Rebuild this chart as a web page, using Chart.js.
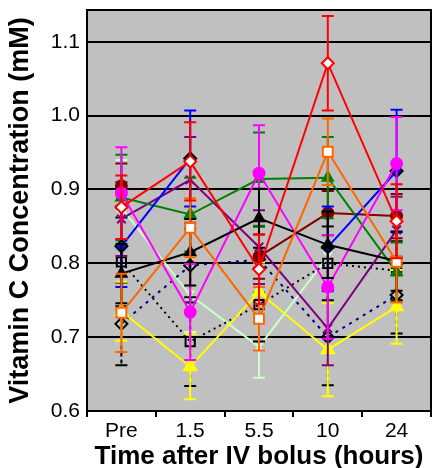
<!DOCTYPE html>
<html>
<head>
<meta charset="utf-8">
<script src="https://cdn.jsdelivr.net/npm/chart.js@4/dist/chart.umd.min.js"></script>
<style>
  html, body { margin: 0; padding: 0; background: #fff; }
  #wrap { width: 440px; height: 468px; }
</style>
</head>
<body>
<div id="wrap"><canvas id="vitC"></canvas></div>
<script>
// Vitamin C concentration after IV bolus — one line per subject, mean ± error

const timePoints = ['Pre', '1.5', '5.5', '10', '24'];
const yTickValues = [0.6, 0.7, 0.8, 0.9, 1.0, 1.1];

// values (mM) and error half-widths (null = no sample)
const redVals    = [0.876, 0.938, 0.792, 1.071, 0.857];
const redErr     = [0.043, 0.053, 0.047, 0.064, 0.050];
const blackVals  = [0.786, 0.815, 0.861, 0.825, 0.803];
const blackErr   = [0.040, 0.045, 0.040, 0.045, 0.040];
const orangeVals = [0.733, 0.848, 0.725, 0.951, 0.802];
const orangeErr  = [0.053, 0.040, 0.043, 0.045, 0.055];
const magentaVals = [0.895, 0.734, 0.922, 0.768, 0.935];
const magentaErr  = [0.062, 0.065, 0.065, 0.070, 0.063];
const blueVals   = [0.823, 0.942, null, 0.822, 0.925];
const blueErr    = [0.055, 0.065, null, 0.055, 0.083];
const greenVals  = [0.889, 0.866, 0.914, 0.916, 0.788];
const greenErr   = [0.058, 0.050, 0.063, 0.055, 0.040];
const maroonVals = [0.905, null, 0.809, 0.868, 0.864];
const maroonErr  = [0.030, null, 0.030, 0.030, 0.030];
const purpleVals = [0.860, 0.913, 0.822, 0.712, 0.845];
const purpleErr  = [0.050, 0.058, 0.050, 0.050, 0.045];
const yellowVals = [0.735, 0.660, 0.761, 0.683, 0.741];
const yellowErr  = [0.040, 0.044, 0.040, 0.063, 0.050];
const navyVals   = [0.718, 0.797, 0.805, 0.700, 0.757];
const navyErr    = [0.056, 0.050, 0.045, 0.065, 0.052];
const blackDotVals = [0.802, 0.694, 0.744, 0.800, 0.790];
const blackDotErr  = [0.060, 0.060, 0.050, 0.050, 0.040];
const paleVals   = [0.875, 0.757, 0.687, 0.809, null];
const paleErr    = [0.065, 0.050, 0.042, 0.040, null];

// drawing order: first entry ends up on top
const SERIES = [
  { data: redVals,      err: redErr,      color: '#ff0000', style: 'rectRot',  r: 6,   fill: '#ffffff' },
  { data: orangeVals,   err: orangeErr,   color: '#ff6600', style: 'rect',     r: 7,   fill: '#ffffff' },
  { data: blackVals,    err: blackErr,    color: '#000000', style: 'triangle', r: 6 },
  { data: magentaVals,  err: magentaErr,  color: '#ff00ff', style: 'circle',   r: 5.5 },
  { data: blueVals,     err: blueErr,     color: '#0000ff', style: 'rectRot',  r: 6,   edge: '#000000' },
  { data: greenVals,    err: greenErr,    color: '#008000', style: 'triangle', r: 6 },
  { data: maroonVals,   err: maroonErr,   color: '#800000', style: 'circle',   r: 5.5 },
  { data: purpleVals,   err: purpleErr,   color: '#800080', style: 'crossRot', r: 6 },
  { data: yellowVals,   err: yellowErr,   color: '#ffff00', style: 'triangle', r: 7 },
  { data: navyVals,     err: navyErr,     color: '#000080', style: 'rectRot',  r: 6,   fill: 'rgba(0,0,0,0)', edge: '#000000', dash: [3, 5], errColor: '#000000', errDash: [4, 3] },
  { data: blackDotVals, err: blackDotErr, color: '#000000', style: 'rect',     r: 6.5, fill: 'rgba(0,0,0,0)', dash: [2, 4], errDash: [4, 3] },
  { data: paleVals,     err: paleErr,     color: '#ccffcc', style: 'crossRot', r: 6 }
];

const FONT = "'Liberation Sans', Arial, sans-serif";

// grey plot background + black frame
const plotFrame = {
  id: 'plotFrame',
  beforeDraw(chart) {
    const { ctx, chartArea: a } = chart;
    ctx.save();
    ctx.fillStyle = '#c0c0c0';
    ctx.fillRect(a.left, a.top, a.right - a.left, a.bottom - a.top);
    ctx.restore();
  },
  afterDraw(chart) {
    const { ctx, chartArea: a } = chart;
    ctx.save();
    ctx.strokeStyle = '#000';
    ctx.lineWidth = 2;
    ctx.strokeRect(a.left, a.top, a.right - a.left, a.bottom - a.top);
    ctx.restore();
  }
};

// vertical error bars with caps, drawn under each dataset's own line
const errorBars = {
  id: 'errorBars',
  beforeDatasetDraw(chart, args) {
    const ds = chart.data.datasets[args.index];
    if (!ds.errors) return;
    const y = chart.scales.y;
    const ctx = chart.ctx;
    ctx.save();
    ctx.strokeStyle = ds.errColor;
    ctx.lineWidth = 2;
    ctx.setLineDash(ds.errDash);
    args.meta.data.forEach((pt, i) => {
      const v = ds.data[i], e = ds.errors[i];
      if (v == null || e == null) return;
      const top = y.getPixelForValue(v + e);
      const bot = y.getPixelForValue(v - e);
      ctx.beginPath();
      ctx.moveTo(pt.x, top); ctx.lineTo(pt.x, bot);
      ctx.stroke();
      ctx.setLineDash([]);
      ctx.beginPath();
      ctx.moveTo(pt.x - 6, top); ctx.lineTo(pt.x + 6, top);
      ctx.moveTo(pt.x - 6, bot); ctx.lineTo(pt.x + 6, bot);
      ctx.stroke();
      ctx.setLineDash(ds.errDash);
    });
    ctx.restore();
  }
};

const datasets = SERIES.map((s, i) => ({
  label: 'Subject ' + (i + 1),
  data: s.data,
  errors: s.err,
  errColor: s.errColor || s.color,
  errDash: s.errDash || [],
  borderColor: s.color,
  backgroundColor: s.fill || s.color,
  borderWidth: 2,
  borderDash: s.dash || [],
  tension: 0,
  spanGaps: false,
  pointStyle: s.style,
  pointRadius: s.r,
  pointBackgroundColor: s.fill || s.color,
  pointBorderColor: s.edge || s.color,
  pointBorderWidth: 2
}));

new Chart(document.getElementById('vitC').getContext('2d'), {
  type: 'line',
  data: { labels: timePoints, datasets },
  plugins: [plotFrame, errorBars],
  options: {
    responsive: true,
    maintainAspectRatio: false,
    animation: false,
    layout: { padding: { top: 10, right: 4, left: 0, bottom: 0 } },
    plugins: { legend: { display: false }, tooltip: { enabled: false } },
    scales: {
      x: {
        offset: true,
        grid: { offset: true, drawOnChartArea: false, color: '#000', lineWidth: 2, tickLength: 6 },
        border: { display: false },
        ticks: { color: '#000', font: { family: FONT, size: 21 }, padding: 2, maxRotation: 0, autoSkip: false },
        title: {
          display: true,
          text: 'Time after IV bolus (hours)',
          color: '#000',
          font: { family: FONT, size: 26, weight: 'bold', lineHeight: '22px' },
          padding: 0
        },
        afterFit: s => { s.height = 57; s.paddingLeft = 0; s.paddingRight = 0; }
      },
      y: {
        min: 0.6,
        max: 1.143,
        grid: { color: '#000', lineWidth: 2, drawTicks: false },
        border: { display: false },
        ticks: {
          stepSize: 0.1,
          color: '#000',
          padding: 7,
          font: { family: FONT, size: 21 },
          callback: v => Number(v).toFixed(1)
        },
        afterBuildTicks: s => {
          s.ticks = yTickValues.map(v => ({ value: v }));
        },
        title: {
          display: true,
          text: 'Vitamin C Concentration (mM)',
          color: '#000',
          font: { family: FONT, size: 27, weight: 'bold', lineHeight: '27px' },
          padding: { top: 7, bottom: 0 }
        },
        afterFit: s => { s.width = 87; s.paddingTop = 0; s.paddingBottom = 0; }
      }
    }
  }
});
</script>
</body>
</html>
